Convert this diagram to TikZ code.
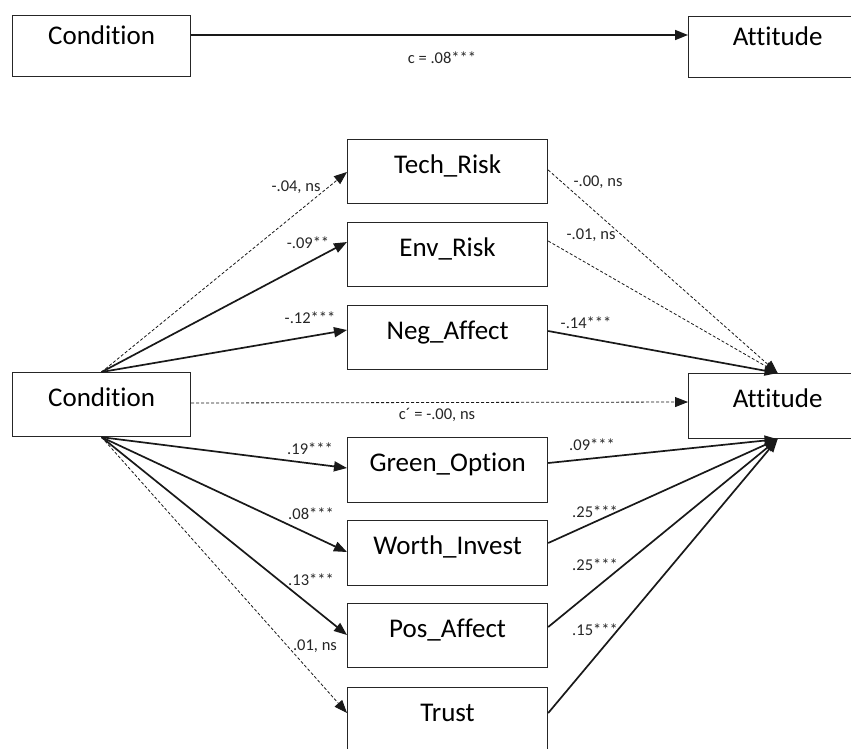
\documentclass[tikz,border=0pt]{standalone}
\usepackage{fontspec}
\setmainfont[Ligatures=NoCommon]{Carlito}
\usetikzlibrary{arrows.meta,calc}

\begin{document}
\begin{tikzpicture}[x=1pt,y=-1pt,
  box/.style={draw=black!85, line width=1.2pt, rectangle, anchor=north west,
    inner sep=0pt, font=\fontsize{27}{32}\selectfont, text height=19pt, text depth=16pt},
  medbox/.style={box, minimum width=200pt},
  endbox/.style={box, minimum width=178pt},
  lab/.style={font=\fontsize{16.5}{19}\selectfont, inner sep=0pt, text=black!85},
  sol/.style={draw=black!90, line width=1.7pt, -{Triangle[length=13pt,width=10pt]}},
  dsh/.style={draw=black!90, line width=0.8pt, dash pattern=on 3pt off 2pt, -{Triangle[length=13pt,width=10pt]}},
]
\clip (0,0) rectangle (851,748);
\fill[white] (0,0) rectangle (851,748);

% top model
\node[endbox, minimum height=61pt, text depth=22pt] (c1) at (12,15) {Condition};
\node[endbox, minimum height=61pt, text depth=22pt] (a1) at (688,16) {Attitude};
\draw[sol] ($(c1.north east)+(0,20)$) -- ($(a1.north west)+(0,19)$);
\node[lab] (lc) at (442,58) {c = .08***};

% bottom model
\node[endbox, minimum height=64pt] (cond) at (12,372) {Condition};
\node[endbox, minimum height=65pt] (att) at (688,373) {Attitude};

\node[medbox, minimum height=64pt] (tech) at (347,139) {Tech\_Risk};
\node[medbox, minimum height=64pt] (env) at (347,222) {Env\_Risk};
\node[medbox, minimum height=64pt] (neg) at (347,305) {Neg\_Affect};
\node[medbox, minimum height=65pt] (green) at (347,437) {Green\_Option};
\node[medbox, minimum height=65pt] (worth) at (347,520) {Worth\_Invest};
\node[medbox, minimum height=64pt] (pos) at (347,603) {Pos\_Affect};
\node[medbox, minimum height=64pt] (trust) at (347,687) {Trust};

% condition -> mediators
\draw[dsh] (cond.north) -- ($(tech.north west)+(0,33)$);
\draw[sol] (cond.north) -- ($(env.north west)+(0,20)$);
\draw[sol] (cond.north) -- ($(neg.north west)+(0,25)$);
\draw[sol] (cond.south) -- ($(green.north west)+(0,31)$);
\draw[sol] (cond.south) -- ($(worth.north west)+(0,32)$);
\draw[sol] (cond.south) -- ($(pos.north west)+(0,32)$);
\draw[dsh] (cond.south) -- ($(trust.north west)+(0,26)$);

% direct path
\draw[dsh] ($(cond.north east)+(0,31)$) -- ($(att.north west)+(0,29)$);

% mediators -> attitude
\draw[dsh] ($(tech.north east)+(0,31)$) -- (att.north);
\draw[dsh] ($(env.north east)+(0,19)$) -- (att.north);
\draw[sol] ($(neg.north east)+(0,26)$) -- (att.north);
\draw[sol] ($(green.north east)+(0,26)$) -- (att.south);
\draw[sol] ($(worth.north east)+(0,23)$) -- (att.south);
\draw[sol] ($(pos.north east)+(0,24)$) -- (att.south);
\draw[sol] ($(trust.north east)+(0,26)$) -- (att.south);

% labels left
\node[lab] (l1) at (296,187) {-.04, ns};
\node[lab] (l2) at (308,243) {-.09**};
\node[lab] (l3) at (310,318) {-.12***};
\node[lab] (l4) at (310,449) {.19***};
\node[lab] (l5) at (311,514) {.08***};
\node[lab] (l6) at (311,580) {.13***};
\node[lab] (l7) at (315,646) {.01, ns};
% direct label
\node[lab] (l8) at (437,415) {c´ = -.00, ns};
% labels right
\node[lab] (r1) at (598,182) {-.00, ns};
\node[lab] (r2) at (591,235) {-.01, ns};
\node[lab] (r3) at (586,323) {-.14***};
\node[lab] (r4) at (592,445) {.09***};
\node[lab] (r5) at (595,512) {.25***};
\node[lab] (r6) at (595,565) {.25***};
\node[lab] (r7) at (595,630) {.15***};
\end{tikzpicture}
\end{document}
